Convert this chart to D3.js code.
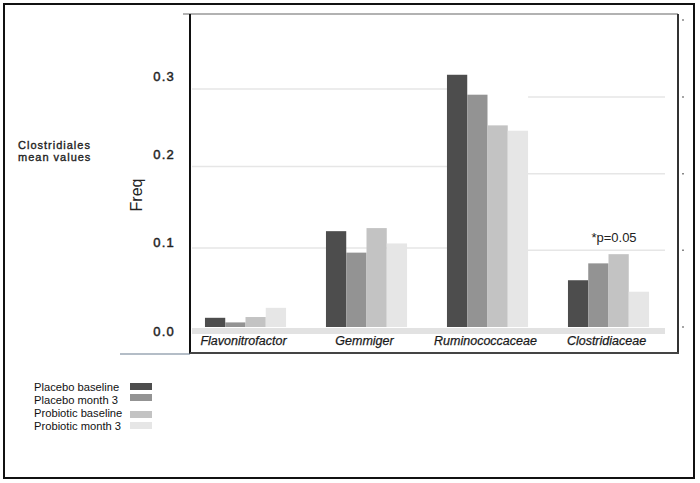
<!DOCTYPE html>
<html>
<head>
<meta charset="utf-8">
<script src="https://cdn.jsdelivr.net/npm/d3@7"></script>
<style>
  html, body { margin: 0; padding: 0; background: #fff; }
  svg { display: block; font-family: Arial, "Liberation Sans", sans-serif; }
</style>
</head>
<body>
<svg id="chart" width="700" height="483"></svg>
<script>
// ---- data ----
const categories = ["Flavonitrofactor", "Gemmiger", "Ruminococcaceae", "Clostridiaceae"];
const seriesNames = ["Placebo baseline", "Placebo month 3", "Probiotic baseline", "Probiotic month 3"];
const placeboBaseline  = [0.012, 0.125, 0.329, 0.061];
const placeboMonth3    = [0.006, 0.097, 0.303, 0.083];
const probioticBase    = [0.013, 0.129, 0.263, 0.095];
const probioticMonth3  = [0.025, 0.109, 0.256, 0.046];
const tickValues = [0.0, 0.1, 0.2, 0.3];
const tickLabels = ["0.0", "0.1", "0.2", "0.3"];
const gridValues = [0.1, 0.2, 0.3];
const colors = ["#4d4d4d", "#939393", "#c3c3c3", "#e6e6e6"];

const series = [placeboBaseline, placeboMonth3, probioticBase, probioticMonth3];

const svg = d3.select("#chart");

// outer frame
svg.append("rect").attr("x", 4).attr("y", 4).attr("width", 690).attr("height", 474)
  .attr("fill", "none").attr("stroke", "#111").attr("stroke-width", 2);

// scales
const x0 = d3.scaleBand().domain(categories).range([185, 669]).paddingInner(0.33).paddingOuter(0.165);
const x1 = d3.scaleBand().domain(d3.range(seriesNames.length)).range([0, x0.bandwidth()]);
const y = d3.scaleLinear().domain([0, 0.3]).range([327, 97]);
// the left part of the gridlines sits a few pixels higher in the reference
const yLeftGrid = d3.scaleLinear().domain([0.1, 0.2, 0.3]).range([248, 166.5, 89]);
const yLabel = d3.scaleLinear().domain([0, 0.1, 0.2, 0.3]).range([331, 242, 154, 76]);

const rumStart = x0("Ruminococcaceae");
const rumEnd = rumStart + x0.bandwidth();

// gridlines
const grid = svg.append("g").attr("stroke", "#e6e6e6").attr("stroke-width", 1.5);
grid.selectAll("line.gl").data(gridValues).join("line").attr("class", "gl")
  .attr("x1", 192).attr("x2", rumStart)
  .attr("y1", d => yLeftGrid(d)).attr("y2", d => yLeftGrid(d));
grid.selectAll("line.gr").data(gridValues).join("line").attr("class", "gr")
  .attr("x1", rumEnd).attr("x2", 665)
  .attr("y1", d => y(d)).attr("y2", d => y(d));

// x-axis band
svg.append("rect").attr("x", 192).attr("y", y(0) + 1).attr("width", 473).attr("height", 6)
  .attr("fill", "#e2e2e2");

// bars
const groups = svg.append("g").selectAll("g").data(categories).join("g")
  .attr("transform", d => `translate(${x0(d)},0)`);
groups.selectAll("rect").data((d, i) => series.map((s, j) => ({ j, v: s[i] })))
  .join("rect")
  .attr("x", d => x1(d.j))
  .attr("width", x1.bandwidth())
  .attr("y", d => y(d.v))
  .attr("height", d => y(0) - y(d.v))
  .attr("fill", d => colors[d.j]);

// category labels
svg.append("g").selectAll("text").data(categories).join("text")
  .attr("x", d => x0(d) + x0.bandwidth() / 2 - 2)
  .attr("y", 345)
  .attr("text-anchor", "middle")
  .attr("font-style", "italic")
  .attr("font-size", 12.5)
  .attr("fill", "#1a1a1a")
  .attr("stroke", "#1a1a1a").attr("stroke-width", 0.25)
  .text(d => d);

// plot frame
svg.append("line").attr("x1", 183).attr("x2", 678).attr("y1", 14).attr("y2", 14)
  .attr("stroke", "#666").attr("stroke-width", 1.2);
svg.append("line").attr("x1", 190).attr("x2", 190).attr("y1", 14).attr("y2", 354)
  .attr("stroke", "#111").attr("stroke-width", 2);
svg.append("line").attr("x1", 678).attr("x2", 678).attr("y1", 14).attr("y2", 354)
  .attr("stroke", "#333").attr("stroke-width", 2);
svg.append("line").attr("x1", 190).attr("x2", 679).attr("y1", 353).attr("y2", 353)
  .attr("stroke", "#444").attr("stroke-width", 2);
svg.append("line").attr("x1", 120).attr("x2", 190).attr("y1", 354).attr("y2", 354)
  .attr("stroke", "#6a7d90").attr("stroke-width", 1.2);

// small right-side ticks
svg.append("g").selectAll("line").data([0, 0.1, 0.2, 0.3, 0.4]).join("line")
  .attr("x1", 682).attr("x2", 684)
  .attr("y1", d => d === 0.4 ? 20 : y(d)).attr("y2", d => d === 0.4 ? 20 : y(d))
  .attr("stroke", "#888").attr("stroke-width", 1.5);

// y tick labels
svg.append("g").selectAll("text").data(tickValues).join("text")
  .attr("x", 175)
  .attr("y", d => yLabel(d))
  .attr("dy", "0.35em")
  .attr("text-anchor", "end")
  .attr("font-size", 13)
  .attr("letter-spacing", 1.2)
  .attr("fill", "#222")
  .attr("stroke", "#222").attr("stroke-width", 0.45)
  .text((d, i) => tickLabels[i]);

// y axis title
svg.append("text")
  .attr("transform", "translate(142,195) rotate(-90)")
  .attr("text-anchor", "middle")
  .attr("font-size", 16)
  .attr("fill", "#222")
  .text("Freq");

// side label
const side = svg.append("text").attr("font-size", 11)
  .attr("letter-spacing", 1).attr("fill", "#222")
  .attr("stroke", "#222").attr("stroke-width", 0.35);
side.append("tspan").attr("x", 18).attr("y", 149).text("Clostridiales");
side.append("tspan").attr("x", 18).attr("y", 161).text("mean values");

// annotation
svg.append("text").attr("x", 614).attr("y", 242).attr("text-anchor", "middle")
  .attr("font-size", 13).attr("fill", "#222").text("*p=0.05");

// legend
const legTextY = [387, 400, 413, 426];
const legSwY = [383, 394, 411, 422];
const leg = svg.append("g");
leg.selectAll("text").data(seriesNames).join("text")
  .attr("x", 34).attr("y", (d, i) => legTextY[i]).attr("dy", "0.35em")
  .attr("font-size", 11.2).attr("fill", "#111").text(d => d);
leg.selectAll("rect").data(seriesNames).join("rect")
  .attr("x", 130).attr("y", (d, i) => legSwY[i]).attr("width", 22).attr("height", 7)
  .attr("fill", (d, i) => colors[i]);
</script>
</body>
</html>
